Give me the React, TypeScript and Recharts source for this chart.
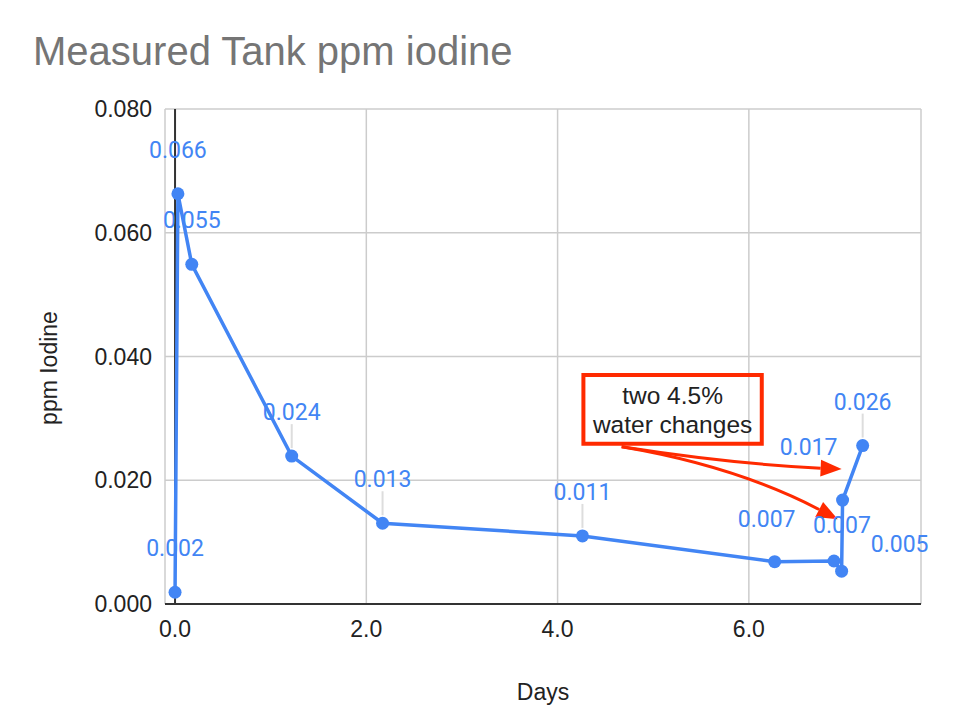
import React from "react";
import {
  LineChart,
  Line,
  XAxis,
  YAxis,
  CartesianGrid,
  ReferenceLine,
  ReferenceArea,
  LabelList,
} from "recharts";

// readings, in tank order
const days = [0, 0.03, 0.175, 1.22, 2.17, 4.26, 6.27, 6.89, 6.97, 6.98, 7.19];
const ppm = [
  0.0019, 0.0663, 0.0549, 0.0239, 0.01305, 0.011, 0.00684, 0.00695, 0.0053,
  0.0168, 0.0256,
];
const xTicks = [0, 2, 4, 6];
const yTicks = [0, 0.02, 0.04, 0.06, 0.08];
const noteLines = ["two 4.5%", "water changes"];

const data = days.map((d, i) => ({ day: d, ppm: ppm[i] }));

const BLUE = "#4285F4";
const RED = "#FF2A00";
const SANS = "'Liberation Sans', Arial, Helvetica, sans-serif";

// labels that Sheets pushed aside to avoid collisions: [dx, dy] in px
const LABEL_NUDGE: Record<number, [number, number]> = {
  6: [-8, 1],
  7: [8, 8],
  8: [58, 17],
  9: [-34, -9],
};
const NO_LEADER = [0, 1, 2];

function PointLabel(props: any) {
  const { x, y, value, index } = props;
  const nudge = LABEL_NUDGE[index];
  const [dx, dy] = nudge ?? [0, 0];
  const leader = !nudge && !NO_LEADER.includes(index);
  return (
    <g>
      {leader && (
        <line
          x1={x}
          y1={y - 8}
          x2={x}
          y2={y - 32}
          stroke="#dddddd"
          strokeWidth={2}
        />
      )}
      <text
        x={x + dx}
        y={y - 36 + dy}
        textAnchor="middle"
        fill={BLUE}
        fontFamily="Roboto, sans-serif"
        fontSize={23}
      >
        {Number(value).toFixed(3)}
      </text>
    </g>
  );
}

function curvedArrow(bend: number) {
  return (p: any) => {
    const { x1, y1, x2, y2 } = p;
    const len = Math.hypot(x2 - x1, y2 - y1) || 1;
    const nx = -(y2 - y1) / len;
    const ny = (x2 - x1) / len;
    const cx = (x1 + x2) / 2 + nx * bend;
    const cy = (y1 + y2) / 2 + ny * bend;
    const tl = Math.hypot(x2 - cx, y2 - cy) || 1;
    const ux = (x2 - cx) / tl;
    const uy = (y2 - cy) / tl;
    const head = 21;
    const half = 8.5;
    const bx = x2 - ux * head;
    const by = y2 - uy * head;
    return (
      <g>
        <path
          d={`M${x1},${y1} Q${cx},${cy} ${bx},${by}`}
          fill="none"
          stroke={RED}
          strokeWidth={3}
        />
        <polygon
          points={`${x2},${y2} ${bx - uy * half},${by + ux * half} ${
            bx + uy * half
          },${by - ux * half}`}
          fill={RED}
        />
      </g>
    );
  };
}

function NoteText(props: any) {
  const { x, y, width, height } = props.viewBox;
  const cx = x + width / 2;
  const cy = y + height / 2;
  return (
    <g>
      {noteLines.map((t, i) => (
        <text
          key={t}
          x={cx}
          y={cy - 5 + i * 29}
          textAnchor="middle"
          fill="#222"
          fontFamily={SANS}
          fontSize={24.5}
        >
          {t}
        </text>
      ))}
    </g>
  );
}

function XTitle(props: any) {
  const { x, width } = props.viewBox;
  return (
    <text
      x={x + width / 2}
      y={700}
      textAnchor="middle"
      fill="#222"
      fontFamily={SANS}
      fontSize={23}
    >
      Days
    </text>
  );
}

function YTitle() {
  return (
    <text
      transform="translate(57, 368) rotate(-90)"
      textAnchor="middle"
      fill="#222"
      fontFamily={SANS}
      fontSize={23}
    >
      ppm Iodine
    </text>
  );
}

const tickStyle = { fill: "#222", fontSize: 23, fontFamily: SANS };

export default function App() {
  return (
    <div
      style={{
        position: "absolute",
        left: 0,
        top: 0,
        width: 954,
        height: 720,
        background: "#fff",
      }}
    >
      <div
        style={{
          position: "absolute",
          left: 33,
          top: 31,
          fontFamily: SANS,
          fontSize: 40,
          lineHeight: "40px",
          color: "#757575",
          whiteSpace: "nowrap",
        }}
      >
        Measured Tank ppm iodine
      </div>
      <LineChart
        width={954}
        height={720}
        data={data}
        margin={{ top: 109, right: 33, bottom: 56, left: 0 }}
      >
        <CartesianGrid stroke="#cccccc" strokeWidth={1.5} />
        <XAxis
          type="number"
          dataKey="day"
          domain={[-0.105, 7.8]}
          ticks={xTicks}
          interval={0}
          allowDataOverflow
          tickFormatter={(v: number) => v.toFixed(1)}
          axisLine={{ stroke: "#333", strokeWidth: 2 }}
          tickLine={false}
          tickSize={0}
          tickMargin={17}
          height={60}
          tick={tickStyle}
          label={XTitle}
        />
        <YAxis
          type="number"
          domain={[0, 0.08]}
          ticks={yTicks}
          interval={0}
          tickFormatter={(v: number) => v.toFixed(3)}
          axisLine={false}
          tickLine={false}
          tickSize={0}
          tickMargin={13}
          width={165}
          tick={tickStyle}
          label={YTitle}
        />
        <ReferenceLine x={0} stroke="#333" strokeWidth={2} />
        <Line
          type="linear"
          dataKey="ppm"
          stroke={BLUE}
          strokeWidth={3.5}
          dot={{ r: 6.5, fill: BLUE, stroke: BLUE, strokeWidth: 0 }}
          activeDot={false}
          isAnimationActive={false}
        >
          <LabelList dataKey="ppm" content={PointLabel} />
        </Line>
        <ReferenceArea
          x1={4.27}
          x2={6.135}
          y1={0.0259}
          y2={0.037}
          fill="none"
          stroke={RED}
          strokeWidth={4}
          ifOverflow="visible"
          label={NoteText}
        />
        <ReferenceLine
          segment={[
            { x: 4.67, y: 0.0254 },
            { x: 6.97, y: 0.0218 },
          ]}
          shape={curvedArrow(6)}
          ifOverflow="visible"
        />
        <ReferenceLine
          segment={[
            { x: 4.67, y: 0.0254 },
            { x: 6.93, y: 0.0137 },
          ]}
          shape={curvedArrow(-18)}
          ifOverflow="visible"
        />
      </LineChart>
    </div>
  );
}
